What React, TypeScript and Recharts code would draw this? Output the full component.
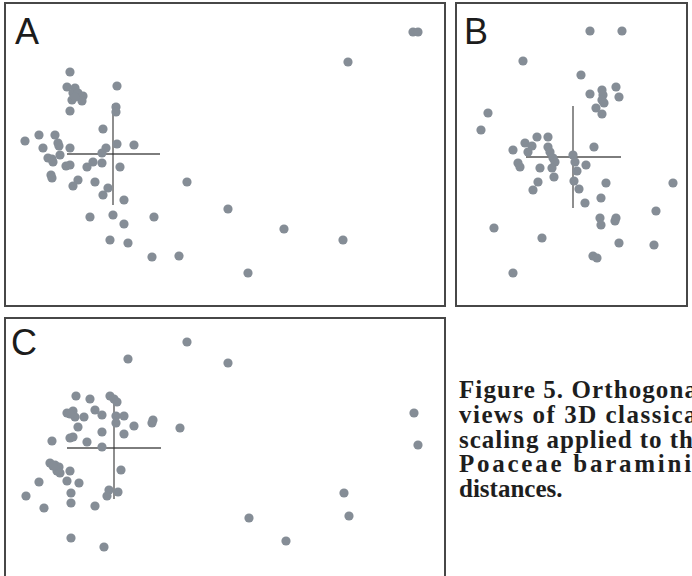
import { ScatterChart, Scatter, XAxis, YAxis, ReferenceLine } from 'recharts';

type Pt = [number, number];

// MDS coordinates (panel-space units, y grows downward)
const pointsA: Pt[] = [
  [70, 72], [117, 86], [67, 87], [75, 88], [73, 93], [78, 93], [72, 100], [83, 96], [82, 101], [75, 97],
  [70, 111], [116, 107], [116, 112], [103, 129], [25, 141], [39, 135], [55, 135], [43, 148], [58, 143], [59, 146],
  [70, 148], [60, 155], [48, 158], [52, 159], [53, 162], [106, 148], [102, 153], [117, 144], [134, 145], [66, 166],
  [70, 165], [87, 167], [93, 162], [102, 163], [120, 167], [51, 175], [52, 178], [78, 180], [73, 186], [95, 182],
  [108, 188], [103, 195], [124, 200], [187, 182], [90, 217], [113, 215], [124, 224], [154, 217], [110, 240], [128, 243],
  [152, 257], [179, 256], [228, 209], [284, 229], [343, 240], [248, 273], [348, 62], [413, 32], [418, 32],
];

const pointsB: Pt[] = [
  [590, 31], [622, 31], [523, 61], [581, 75], [616, 87], [619, 97], [602, 90], [603, 95], [602, 100], [604, 103],
  [590, 94], [596, 108], [602, 114], [488, 113], [481, 130], [537, 137], [548, 137], [525, 143], [532, 146], [513, 150],
  [528, 152], [548, 147], [550, 152], [594, 147], [573, 155], [553, 158], [555, 162], [575, 162], [586, 165], [518, 163],
  [520, 167], [540, 168], [552, 168], [577, 171], [554, 177], [574, 181], [538, 182], [533, 190], [579, 189], [606, 183],
  [673, 183], [601, 198], [585, 203], [656, 211], [600, 218], [601, 225], [616, 218], [615, 221], [494, 228], [542, 238],
  [619, 243], [654, 245], [593, 256], [597, 258], [513, 273],
];

const pointsC: Pt[] = [
  [187, 342], [128, 359], [228, 363], [76, 396], [90, 399], [110, 396], [114, 399], [117, 402], [67, 413], [73, 411],
  [75, 417], [70, 414], [84, 417], [95, 410], [102, 415], [116, 416], [116, 423], [124, 416], [78, 427], [134, 426],
  [153, 420], [152, 423], [180, 428], [102, 432], [124, 434], [70, 438], [73, 437], [52, 441], [87, 442], [102, 447],
  [50, 463], [55, 465], [59, 467], [57, 471], [60, 473], [53, 466], [70, 471], [121, 470], [39, 482], [67, 481],
  [79, 483], [71, 493], [71, 503], [26, 496], [44, 508], [95, 506], [109, 490], [107, 496], [118, 492], [71, 538],
  [104, 547], [414, 413], [418, 445], [344, 493], [349, 516], [249, 518], [286, 541],
];

// centroid crosshairs: horizontal [x0, x1] at cy, vertical [y0, y1] at cx
const crossA = { cx: 113, cy: 154, xs: [67, 160], ys: [104, 205] };
const crossB = { cx: 573, cy: 157, xs: [526, 621], ys: [106, 208] };
const crossC = { cx: 114, cy: 448, xs: [67, 161], ys: [397, 499] };

const panelLabels = ['A', 'B', 'C'];

const captionLines = [
  'Figure 5. Orthogonal',
  'views of 3D classical',
  'scaling applied to the',
  'Poaceae baraminic',
  'distances.',
];

const DOT = '#858d96';
const FRAME = '#474747';

type Cross = { cx: number; cy: number; xs: number[]; ys: number[] };

type PanelProps = {
  left: number;
  top: number;
  width: number;
  height: number;
  points: Pt[];
  cross: Cross;
};

function Panel({ left, top, width, height, points, cross }: PanelProps) {
  const data = points.map(([x, y]) => ({ x, y }));

  return (
    <div style={{ position: 'absolute', left, top, width, height }}>
      <ScatterChart width={width} height={height} margin={{ top: 0, right: 0, bottom: 0, left: 0 }}>
        <XAxis type="number" dataKey="x" domain={[left, left + width]} hide />
        <YAxis type="number" dataKey="y" domain={[top, top + height]} reversed hide />
        <Scatter
          data={data}
          isAnimationActive={false}
          fill={DOT}
          shape={(p: any) => <circle cx={p.cx} cy={p.cy} r={4.6} fill={DOT} />}
        />
        <ReferenceLine
          segment={[{ x: cross.xs[0], y: cross.cy }, { x: cross.xs[1], y: cross.cy }]}
          stroke="#333"
          strokeOpacity={0.85}
          strokeWidth={1.3}
        />
        <ReferenceLine
          segment={[{ x: cross.cx, y: cross.ys[0] }, { x: cross.cx, y: cross.ys[1] }]}
          stroke="#333"
          strokeOpacity={0.85}
          strokeWidth={1.3}
        />
      </ScatterChart>
      <div
        style={{
          position: 'absolute',
          inset: 0,
          border: `2px solid ${FRAME}`,
          boxSizing: 'border-box',
          pointerEvents: 'none',
        }}
      />
    </div>
  );
}

export default function App() {
  return (
    <div
      style={{
        position: 'fixed',
        left: 0,
        top: 0,
        width: 692,
        height: 576,
        overflow: 'hidden',
        background: '#fff',
      }}
    >
      <Panel left={4} top={2} width={442} height={305} points={pointsA} cross={crossA} />
      <Panel left={455} top={2} width={233} height={305} points={pointsB} cross={crossB} />
      <Panel left={4} top={317} width={442} height={268} points={pointsC} cross={crossC} />

      <svg width={692} height={576} style={{ position: 'absolute', left: 0, top: 0, pointerEvents: 'none' }}>
        <g fontFamily="'Liberation Sans', Arial, sans-serif" fontSize={36} fill="#1c1c1c">
          <text x={15} y={44}>{panelLabels[0]}</text>
          <text x={464} y={44}>{panelLabels[1]}</text>
          <text x={11} y={355}>{panelLabels[2]}</text>
        </g>
        <g fontFamily="'Liberation Serif', 'Times New Roman', serif" fontWeight="bold" fontSize={25} fill="#1e1e1e">
          {captionLines.map((line, i) => {
            const last = i === captionLines.length - 1;
            return (
              <text
                key={line}
                x={459}
                y={398 + i * 24.8}
                textLength={last ? undefined : 246}
                lengthAdjust={last ? undefined : 'spacing'}
              >
                {line}
              </text>
            );
          })}
        </g>
      </svg>
    </div>
  );
}
